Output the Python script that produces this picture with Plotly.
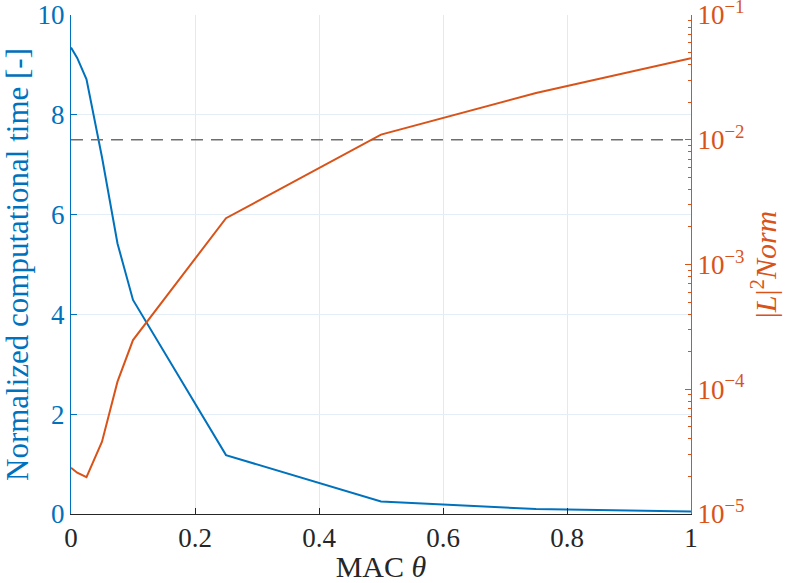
import plotly.graph_objects as go
from plotly.subplots import make_subplots

# MAC theta values (x)
mac_theta = [0, 0.01, 0.025, 0.05, 0.075, 0.1, 0.25, 0.5, 0.75, 1]
# normalized computational time (left axis)
comp_time = [9.35, 9.14, 8.71, 7.15, 5.42, 4.29, 1.18, 0.25, 0.10, 0.05]
# L2 norm error (right axis, log)
l2_norm = [2.35e-5, 2.14e-5, 1.97e-5, 3.8e-5, 1.15e-4, 2.48e-4, 2.35e-3, 1.1e-2, 2.37e-2, 4.5e-2]
# threshold
threshold = 1e-2
threshold_x = [0, 1]

x_ticks = [0, 0.2, 0.4, 0.6, 0.8, 1]
x_ticklabels = ['0', '0.2', '0.4', '0.6', '0.8', '1']
y_ticks = [0, 2, 4, 6, 8, 10]
log_ticks = [1e-5, 1e-4, 1e-3, 1e-2, 1e-1]
log_ticklabels = ['10<sup>\u22125</sup>', '10<sup>\u22124</sup>', '10<sup>\u22123</sup>',
                  '10<sup>\u22122</sup>', '10<sup>\u22121</sup>']

BLUE = '#0072BD'
ORANGE = '#D95319'
FONT = 'Liberation Serif'

minor_vals = [m * 10 ** e for e in range(-5, -1) for m in range(2, 10)]

fig = make_subplots(specs=[[{"secondary_y": True}]])

fig.add_trace(go.Scatter(x=mac_theta, y=comp_time, mode='lines',
                         line=dict(color=BLUE, width=2), showlegend=False),
              secondary_y=False)
fig.add_trace(go.Scatter(x=mac_theta, y=l2_norm, mode='lines',
                         line=dict(color=ORANGE, width=2), showlegend=False),
              secondary_y=True)
fig.add_trace(go.Scatter(x=threshold_x, y=[threshold, threshold], mode='lines',
                         line=dict(color='#6e6e6e', width=1.5, dash='12px,8px'),
                         showlegend=False),
              secondary_y=True)

fig.update_layout(
    width=788, height=583,
    margin=dict(l=71, r=97, t=15, b=69),
    plot_bgcolor='white', paper_bgcolor='white',
    font=dict(family=FONT, size=27, color='#262626'),
)

fig.update_xaxes(
    range=[0, 1], domain=[0, 1], tickvals=x_ticks, ticktext=x_ticklabels, automargin=False,
    ticks='inside', ticklen=6, tickcolor='#262626',
    showline=True, linecolor='#262626', linewidth=1,
    showgrid=True, gridcolor='#e8e8e8', gridwidth=1, zeroline=False,
    tickfont=dict(size=27, color='#262626'), ticklabeloverflow='allow',
    title=dict(text='MAC <i>\u03b8</i>', font=dict(size=30, color='#262626'), standoff=4),
)
fig.update_yaxes(
    range=[0, 10], tickvals=y_ticks, ticks='inside', ticklen=6, tickcolor=BLUE,
    showline=True, linecolor=BLUE, linewidth=1, automargin=False,
    showgrid=True, gridcolor='#e4eef6', gridwidth=1, zeroline=False,
    tickfont=dict(size=27, color=BLUE), ticklabeloverflow='allow',
    title=dict(text='Normalized computational time [-]', font=dict(size=31, color=BLUE), standoff=4),
    secondary_y=False,
)
fig.update_yaxes(
    type='log', range=[-5.0001, -0.9999], tickvals=log_ticks, ticktext=log_ticklabels,
    ticks='inside', ticklen=6, tickcolor=ORANGE, automargin=False,
    minor=dict(ticks='inside', ticklen=3, tickcolor=ORANGE, tickvals=minor_vals, showgrid=False),
    showline=True, linecolor=ORANGE, linewidth=1,
    showgrid=False, zeroline=False,
    tickfont=dict(size=27, color=ORANGE), ticklabeloverflow='allow',
    title=dict(text='|<i>L</i>|<sup>2</sup><i>Norm</i>', font=dict(size=30, color=ORANGE), standoff=4),
    secondary_y=True,
)

# drop the default 8px body margin so the figure fills the window exactly
fig.write_html("out.html", config={'displayModeBar': False},
               post_script="document.body.style.margin = '0';")
